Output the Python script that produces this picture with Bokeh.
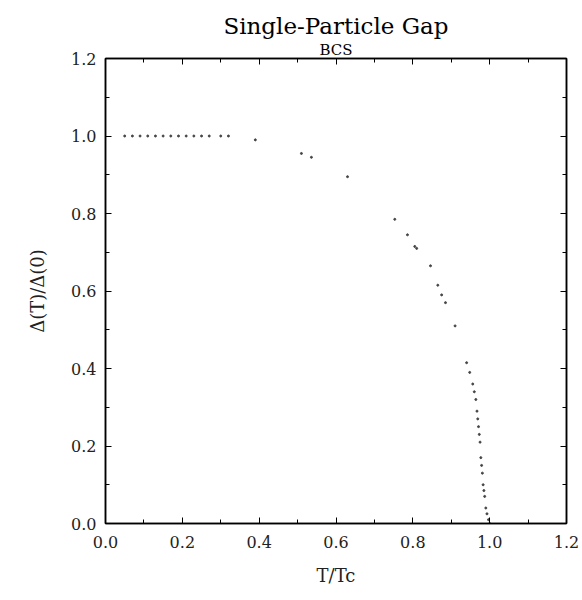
from bokeh.plotting import figure
from bokeh.models import Range1d, LinearAxis, Title, FixedTicker, PrintfTickFormatter
from bokeh.embed import file_html
from bokeh.resources import INLINE

# data (reduced temperature, normalized gap)
t_over_tc = [0.05, 0.07, 0.09, 0.11, 0.13, 0.15, 0.17, 0.19, 0.21, 0.23, 0.25,
             0.27, 0.30, 0.32, 0.39, 0.51, 0.536, 0.63, 0.753, 0.786, 0.805,
             0.81, 0.846, 0.865, 0.875, 0.885, 0.91, 0.94, 0.948, 0.956, 0.96,
             0.964, 0.967, 0.969, 0.971, 0.973, 0.975, 0.977, 0.979, 0.981,
             0.983, 0.985, 0.987, 0.99, 0.993, 0.997, 1.0]
gap_ratio = [1.0, 1.0, 1.0, 1.0, 1.0, 1.0, 1.0, 1.0, 1.0, 1.0, 1.0,
             1.0, 1.0, 1.0, 0.99, 0.955, 0.945, 0.895, 0.785, 0.745, 0.715,
             0.71, 0.665, 0.615, 0.59, 0.57, 0.51, 0.415, 0.39, 0.36, 0.34,
             0.32, 0.29, 0.27, 0.25, 0.23, 0.21, 0.17, 0.15, 0.13,
             0.10, 0.085, 0.07, 0.04, 0.025, 0.01, 0.0]

major_ticks = [0.0, 0.2, 0.4, 0.6, 0.8, 1.0, 1.2]
minor_ticks = [0.1, 0.3, 0.5, 0.7, 0.9, 1.1]

title_text = "Single-Particle Gap"
subtitle_text = "BCS"
x_label = "T/Tc"
y_label = "\u0394(T)/\u0394(0)"

SERIF = "DejaVu Serif"

p = figure(width=582, height=600, output_backend="svg", toolbar_location=None,
           x_range=Range1d(0, 1.2), y_range=Range1d(0, 1.2),
           min_border_left=105, min_border_right=16, min_border_top=58,
           min_border_bottom=77, title=None)

p.background_fill_color = "white"
p.border_fill_color = "white"
p.outline_line_color = "black"
p.outline_line_width = 1.6
p.xgrid.visible = False
p.ygrid.visible = False

def style_axis(ax, labels=True):
    ax.ticker = FixedTicker(ticks=major_ticks, minor_ticks=minor_ticks)
    ax.formatter = PrintfTickFormatter(format="%.1f")
    ax.axis_line_color = "black"
    ax.axis_line_width = 1.4
    ax.major_tick_in = 6
    ax.major_tick_out = 0
    ax.minor_tick_in = 4
    ax.minor_tick_out = 0
    ax.major_tick_line_color = "black"
    ax.minor_tick_line_color = "black"
    ax.major_label_text_font = SERIF
    ax.major_label_text_font_size = "16px"
    ax.major_label_text_color = "#222222"
    ax.axis_label_text_font = SERIF
    ax.axis_label_text_font_size = "18px"
    ax.axis_label_text_font_style = "normal"
    ax.axis_label_text_color = "#222222"
    if not labels:
        ax.major_label_overrides = {t: "" for t in major_ticks}
        ax.major_label_standoff = 0

style_axis(p.xaxis[0])
style_axis(p.yaxis[0])
p.xaxis[0].axis_label = x_label
p.yaxis[0].axis_label = y_label
p.xaxis[0].major_label_standoff = 12
p.yaxis[0].major_label_standoff = 9
p.xaxis[0].axis_label_standoff = 14
p.yaxis[0].axis_label_standoff = 20

top_ax = LinearAxis()
right_ax = LinearAxis()
style_axis(top_ax, labels=False)
style_axis(right_ax, labels=False)
p.add_layout(top_ax, "above")
p.add_layout(right_ax, "right")

for t, size in ((subtitle_text, "15px"), (title_text, "23px")):
    p.add_layout(Title(text=t, align="center", text_font=SERIF,
                       text_font_size=size, text_font_style="normal",
                       text_color="black", standoff=0), "above")

p.scatter(t_over_tc, gap_ratio, size=2.0, color="#444444", marker="circle")

open("out.html", "w").write(file_html(p, INLINE))
